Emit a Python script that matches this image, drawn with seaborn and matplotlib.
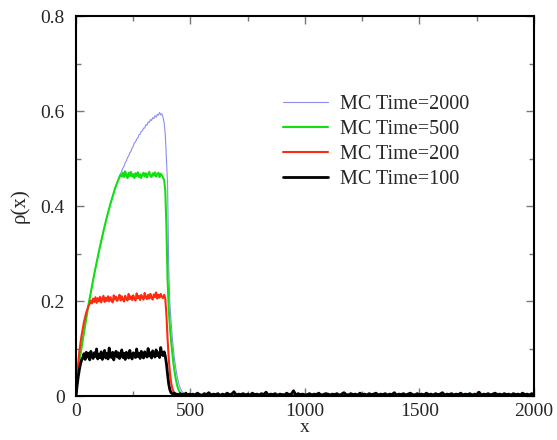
import numpy as np
import pandas as pd
import matplotlib
matplotlib.use("Agg")
import matplotlib.pyplot as plt
import seaborn as sns
from matplotlib.ticker import MultipleLocator

# ---------------- data ----------------
x_core = list(range(0, 501, 5))
x_tail_black = list(range(510, 2001, 10))
x_tail_other = list(range(550, 2001, 50))

black_core = [
    0.000, 0.022, 0.041, 0.056, 0.068, 0.076, 0.081, 0.089, 0.077, 0.092,
    0.082, 0.090, 0.076, 0.094, 0.084, 0.079, 0.091, 0.083, 0.099, 0.078,
    0.088, 0.081, 0.093, 0.077, 0.087, 0.096, 0.080, 0.090, 0.078, 0.101,
    0.084, 0.081, 0.092, 0.076, 0.089, 0.094, 0.082, 0.091, 0.079, 0.087,
    0.097, 0.081, 0.090, 0.077, 0.092, 0.085, 0.080, 0.096, 0.084, 0.078,
    0.091, 0.088, 0.081, 0.099, 0.083, 0.090, 0.079, 0.094, 0.085, 0.080,
    0.093, 0.086, 0.082, 0.100, 0.084, 0.091, 0.080, 0.095, 0.086, 0.082,
    0.097, 0.085, 0.091, 0.081, 0.102, 0.088, 0.085, 0.093, 0.084, 0.068,
    0.045, 0.025, 0.013, 0.007, 0.005, 0.003, 0.006, 0.002, 0.004, 0.003,
    0.001, 0.005, 0.003, 0.002, 0.004, 0.003, 0.006, 0.002, 0.003, 0.004,
    0.002,
]
black_tail = [
    0.004, 0.002, 0.006, 0.003, 0.001, 0.005, 0.003, 0.007, 0.002, 0.004,
    0.003, 0.005, 0.001, 0.004, 0.002, 0.006, 0.003, 0.004, 0.009, 0.002,
    0.004, 0.003, 0.005, 0.002, 0.004, 0.001, 0.006, 0.003, 0.004, 0.002,
    0.005, 0.003, 0.008, 0.002, 0.004, 0.003, 0.005, 0.001, 0.004, 0.003,
    0.002, 0.006, 0.003, 0.004, 0.011, 0.002, 0.005, 0.003, 0.004, 0.002,
    0.003, 0.005, 0.002, 0.004, 0.003, 0.006, 0.002, 0.003, 0.005, 0.004,
    0.002, 0.004, 0.003, 0.005, 0.001, 0.004, 0.007, 0.003, 0.002, 0.005,
    0.003, 0.004, 0.002, 0.006, 0.003, 0.004, 0.002, 0.005, 0.003, 0.004,
    0.006, 0.002, 0.004, 0.003, 0.005, 0.002, 0.004, 0.003, 0.007, 0.002,
    0.004, 0.003, 0.005, 0.002, 0.004, 0.006, 0.003, 0.002, 0.005, 0.003,
    0.004, 0.002, 0.006, 0.003, 0.004, 0.002, 0.005, 0.003, 0.004, 0.007,
    0.002, 0.004, 0.003, 0.005, 0.002, 0.004, 0.003, 0.006, 0.002, 0.004,
    0.003, 0.005, 0.002, 0.004, 0.003, 0.008, 0.002, 0.004, 0.003, 0.005,
    0.002, 0.004, 0.006, 0.003, 0.004, 0.002, 0.005, 0.003, 0.004, 0.002,
    0.005, 0.003, 0.004, 0.002, 0.006, 0.003, 0.004, 0.002, 0.005, 0.003,
]

red_core = [
    0.000, 0.040, 0.070, 0.094, 0.113, 0.129, 0.143, 0.156, 0.166, 0.176,
    0.183, 0.190, 0.194, 0.201, 0.195, 0.205, 0.198, 0.208, 0.196, 0.206,
    0.199, 0.209, 0.197, 0.204, 0.211, 0.198, 0.207, 0.200, 0.210, 0.199,
    0.208, 0.202, 0.197, 0.212, 0.203, 0.209, 0.200, 0.206, 0.213, 0.201,
    0.210, 0.203, 0.199, 0.211, 0.205, 0.201, 0.215, 0.204, 0.210, 0.202,
    0.212, 0.205, 0.201, 0.216, 0.206, 0.211, 0.202, 0.213, 0.207, 0.203,
    0.217, 0.208, 0.204, 0.213, 0.205, 0.215, 0.207, 0.203, 0.214, 0.208,
    0.218, 0.205, 0.213, 0.207, 0.215, 0.209, 0.206, 0.213, 0.205, 0.170,
    0.120, 0.080, 0.050, 0.030, 0.017, 0.010, 0.007, 0.005, 0.004, 0.003,
    0.004, 0.002, 0.003, 0.003, 0.002, 0.004, 0.002, 0.003, 0.002, 0.003,
    0.002,
]
red_tail = [
    0.002, 0.003, 0.001, 0.002, 0.003, 0.002, 0.001, 0.003, 0.002, 0.002,
    0.003, 0.001, 0.002, 0.003, 0.002, 0.002, 0.001, 0.003, 0.002, 0.003,
    0.002, 0.001, 0.003, 0.002, 0.002, 0.003, 0.001, 0.002, 0.003, 0.002,
]

green_core = [
    0.000, 0.028, 0.052, 0.072, 0.089, 0.104, 0.119, 0.134, 0.149, 0.164,
    0.179, 0.193, 0.206, 0.219, 0.232, 0.245, 0.257, 0.269, 0.281, 0.293,
    0.304, 0.315, 0.326, 0.337, 0.347, 0.357, 0.367, 0.377, 0.386, 0.395,
    0.404, 0.412, 0.420, 0.428, 0.436, 0.443, 0.449, 0.455, 0.461, 0.466,
    0.462, 0.470, 0.461, 0.473, 0.464, 0.459, 0.470, 0.463, 0.472, 0.462,
    0.467, 0.459, 0.469, 0.463, 0.471, 0.461, 0.467, 0.459, 0.466, 0.470,
    0.462, 0.469, 0.460, 0.467, 0.472, 0.463, 0.461, 0.469, 0.464, 0.471,
    0.462, 0.467, 0.470, 0.461, 0.468, 0.465, 0.460, 0.455, 0.432, 0.355,
    0.245, 0.183, 0.146, 0.117, 0.093, 0.071, 0.053, 0.038, 0.026, 0.017,
    0.011, 0.007, 0.005, 0.004, 0.003, 0.004, 0.003, 0.002, 0.003, 0.004,
    0.003,
]
green_tail = [
    0.003, 0.002, 0.003, 0.002, 0.003, 0.003, 0.002, 0.003, 0.002, 0.003,
    0.002, 0.003, 0.003, 0.002, 0.003, 0.002, 0.003, 0.002, 0.003, 0.003,
    0.002, 0.003, 0.002, 0.003, 0.002, 0.003, 0.003, 0.002, 0.003, 0.002,
]

blue_core = [
    0.000, 0.027, 0.053, 0.071, 0.090, 0.103, 0.120, 0.133, 0.150, 0.163,
    0.180, 0.192, 0.207, 0.218, 0.233, 0.244, 0.258, 0.268, 0.282, 0.292,
    0.305, 0.314, 0.327, 0.336, 0.348, 0.356, 0.368, 0.376, 0.387, 0.394,
    0.405, 0.411, 0.421, 0.427, 0.437, 0.442, 0.450, 0.455, 0.463, 0.468,
    0.474, 0.480, 0.484, 0.491, 0.495, 0.502, 0.505, 0.512, 0.515, 0.522,
    0.526, 0.533, 0.535, 0.541, 0.543, 0.550, 0.551, 0.557, 0.558, 0.564,
    0.564, 0.571, 0.570, 0.577, 0.576, 0.582, 0.580, 0.586, 0.584, 0.590,
    0.587, 0.593, 0.591, 0.597, 0.592, 0.594, 0.587, 0.575, 0.550, 0.500,
    0.445, 0.270, 0.195, 0.158, 0.127, 0.101, 0.079, 0.061, 0.046, 0.034,
    0.024, 0.017, 0.012, 0.008, 0.006, 0.005, 0.004, 0.004, 0.003, 0.004,
    0.003,
]
blue_tail = [
    0.003, 0.003, 0.002, 0.003, 0.003, 0.002, 0.003, 0.003, 0.002, 0.003,
    0.003, 0.002, 0.003, 0.003, 0.002, 0.003, 0.003, 0.002, 0.003, 0.003,
    0.002, 0.003, 0.003, 0.002, 0.003, 0.003, 0.002, 0.003, 0.003, 0.002,
]

labels = ["MC Time=2000", "MC Time=500", "MC Time=200", "MC Time=100"]
x_ticks = [0, 500, 1000, 1500, 2000]
x_ticklabels = ["0", "500", "1000", "1500", "2000"]
y_ticks = [0, 0.2, 0.4, 0.6, 0.8]
y_ticklabels = ["0", "0.2", "0.4", "0.6", "0.8"]

# ---------------- plot ----------------
sns.set_style("ticks")
plt.rcParams["font.family"] = ["Liberation Serif", "DejaVu Serif"]

fig = plt.figure(figsize=(5.57, 4.4), dpi=100)
ax = fig.add_axes([0.1364, 0.100, 0.8223, 0.8636])

series = [
    (x_core + x_tail_other, blue_core + blue_tail, labels[0], "#8c8cf0", 0.8),
    (x_core + x_tail_other, green_core + green_tail, labels[1], "#10e010", 1.5),
    (x_core + x_tail_other, red_core + red_tail, labels[2], "#ff2a10", 1.5),
    (x_core + x_tail_black, black_core + black_tail, labels[3], "#000000", 2.0),
]
for xs, ys, lab, col, lw in series:
    df = pd.DataFrame({"x": xs, "rho": ys})
    sns.lineplot(data=df, x="x", y="rho", ax=ax, color=col, linewidth=lw,
                 label=lab, estimator=None, sort=False)

ax.set_xlim(0, 2000)
ax.set_ylim(0, 0.8)
ax.set_xticks(x_ticks)
ax.set_xticklabels(x_ticklabels)
ax.set_yticks(y_ticks)
ax.set_yticklabels(y_ticklabels)
ax.xaxis.set_minor_locator(MultipleLocator(250))
ax.yaxis.set_minor_locator(MultipleLocator(0.1))
ax.tick_params(which="both", direction="in", top=True, right=True,
               labelsize=14, color="#777777")
ax.tick_params(which="major", length=6, width=1.0)
ax.tick_params(which="minor", length=3.5, width=1.0)
ax.tick_params(axis="x", which="major", pad=5)
ax.tick_params(axis="y", which="major", pad=8)
for s in ax.spines.values():
    s.set_linewidth(1.5)
    s.set_color("black")

ax.set_xlabel("x", fontsize=14, labelpad=-1)
ax.set_ylabel("ρ(x)", fontsize=15, labelpad=8)

leg = ax.legend(loc="upper left", bbox_to_anchor=(0.452, 0.792), frameon=False,
                fontsize=14.5, handlelength=2.25, handletextpad=0.6,
                labelspacing=0.29, borderpad=0, borderaxespad=0)

fig.savefig("out.png", dpi=100)
